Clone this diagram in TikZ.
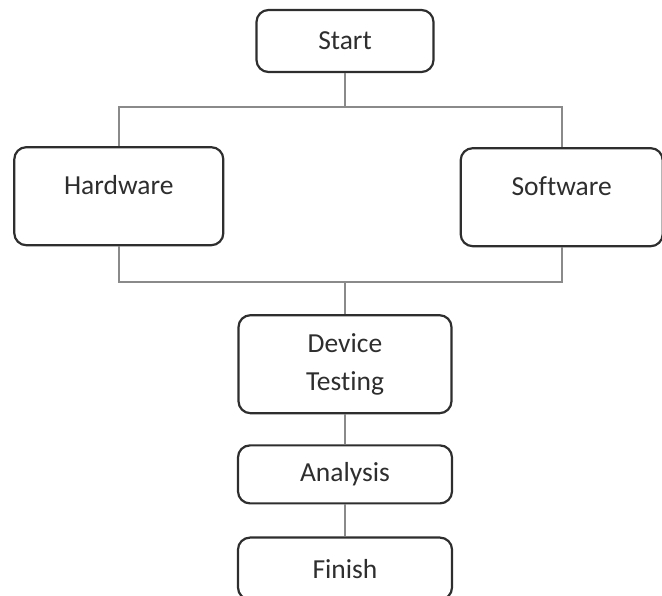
\documentclass[tikz,border=0pt]{standalone}
\usepackage{fontspec}
\setmainfont{Carlito}[Ligatures=CommonOff]
\usetikzlibrary{positioning}
\definecolor{boxline}{HTML}{2E2E2E}
\definecolor{linkline}{HTML}{8A8A8A}
\tikzset{x=1pt, y=1pt,
stage/.style={ % Sets the properties for each step box
draw=boxline, line width=2.2pt, rounded corners=12pt,
text=boxline, font=\fontsize{27.5}{38}\selectfont,
align=center, inner sep=0pt},
upper text/.style={ % Keeps the label in the upper part of the box
text height=47pt, text depth=51pt},
link/.style={ % Sets the properties for each connector
draw=linkline, line width=2pt}}

\begin{document}
\begin{tikzpicture}
    \useasboundingbox (0,0) rectangle (662,595);
    \node[stage, minimum width=177pt, minimum height=62pt] (start) at (345,554) {Start};
    \node[stage, upper text, minimum width=209pt, below left=73pt and 31pt of start] (hw) {Hardware};
    \node[stage, upper text, minimum width=202pt, below right=74pt and 25pt of start] (sw) {Software};
    \node[stage, minimum width=213pt, minimum height=98pt, below=241pt of start] (test) {Device\\Testing};
    \node[stage, minimum width=214pt, minimum height=58pt, below=30pt of test] (ana) {Analysis};
    \node[stage, minimum width=214pt, minimum height=62pt, below=32pt of ana] (fin) {Finish};
    \coordinate (topbus) at (start.south |- 0,488);
    \coordinate (botbus) at (test.north |- 0,313);
    \draw[link] (start) -- (topbus);
    \draw[link] (topbus) -| (hw);
    \draw[link] (topbus) -| (sw);
    \draw[link] (hw) |- (botbus);
    \draw[link] (sw) |- (botbus);
    \draw[link] (botbus) -- (test);
    \draw[link] (test) -- (ana);
    \draw[link] (ana) -- (fin);
\end{tikzpicture}
\end{document}
